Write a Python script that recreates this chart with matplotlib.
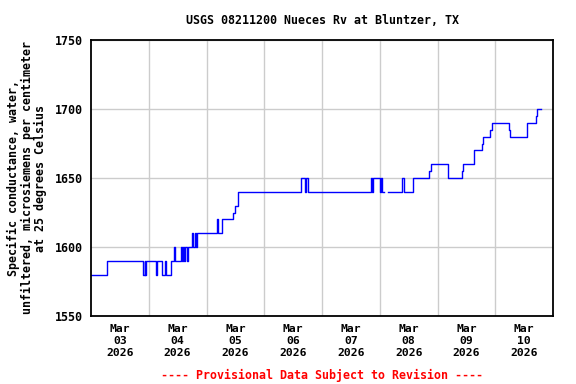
import numpy as np
import matplotlib
matplotlib.use("Agg")
import matplotlib.pyplot as plt

# hours since 2026-03-03 00:00, value starting at that time (step function)
hours = [0, 6.75, 21.75, 22.25, 22.5, 23.0, 27.0, 27.5, 29.5, 30.75, 31.0, 33.25,
         34.5, 35.0, 37.25, 37.75, 38.25, 38.75, 39.25, 39.75, 40.25, 42.0, 42.5,
         43.25, 43.75, 44.25, 52.25, 52.75, 54.5, 59.0, 59.75, 61.25, 87.25, 89.0,
         89.5, 90.0, 116.25, 116.75, 117.0, 120.25, 120.5, 121.0, 121.75, 123.5,
         129.25, 130.25, 134.0, 140.5, 141.25, 148.25, 154.25, 154.75, 159.25,
         162.5, 163.0, 166.0, 166.5, 173.75, 174.25, 181.0, 185.0, 185.5, 187.0]
values = [1580, 1590, 1580, 1590, 1580, 1590, 1580, 1590, 1580, 1590, 1580, 1590,
          1600, 1590, 1600, 1590, 1600, 1590, 1600, 1590, 1600, 1610, 1600,
          1610, 1600, 1610, 1620, 1610, 1620, 1625, 1630, 1640, 1650, 1640,
          1650, 1640, 1650, 1640, 1650, 1640, 1650, 1640, np.nan, 1640,
          1650, 1640, 1650, 1655, 1660, 1650, 1655, 1660, 1670,
          1675, 1680, 1685, 1690, 1685, 1680, 1690, 1695, 1700, 1700]

day_labels = ["Mar\n03\n2026", "Mar\n04\n2026", "Mar\n05\n2026", "Mar\n06\n2026",
              "Mar\n07\n2026", "Mar\n08\n2026", "Mar\n09\n2026", "Mar\n10\n2026"]
y_ticks = [1550, 1600, 1650, 1700, 1750]

title = "USGS 08211200 Nueces Rv at Bluntzer, TX"
ylabel = "Specific conductance, water,\nunfiltered, microsiemens per centimeter\nat 25 degrees Celsius"
footer = "---- Provisional Data Subject to Revision ----"

font = "DejaVu Sans Mono"

fig = plt.figure(figsize=(5.76, 3.84), dpi=100)
ax = fig.add_axes([91/576, 1-316/384, (553-91)/576, (316-40)/384])

ax.plot(hours, values, drawstyle="steps-post", color="#0000ff", linewidth=1.0)

ax.set_xlim(0, 24*8)
ax.set_ylim(1550, 1750)

ax.set_xticks([24*i for i in range(1, 8)])
ax.set_xticklabels([])
ax.set_xticks([24*i + 12 for i in range(8)], minor=True)
ax.set_xticklabels(day_labels, minor=True, fontfamily=font, fontweight="bold",
                   fontsize=8.2, linespacing=1.25)
ax.tick_params(axis="x", which="both", length=0, pad=6)

ax.set_yticks(y_ticks)
ax.set_yticklabels([str(v) for v in y_ticks], fontfamily=font, fontweight="bold", fontsize=8.4)
ax.tick_params(axis="y", length=0, pad=6)

ax.grid(True, which="major", color="#cccccc", linewidth=1.0)
ax.set_axisbelow(True)
for s in ax.spines.values():
    s.set_linewidth(1.3)
    s.set_color("black")

fig.text(322/576, 1-20/384, title, ha="center", va="center", fontfamily=font,
         fontweight="bold", fontsize=8.4)
fig.text(27/576, 1-178/384, ylabel, ha="center", va="center", rotation=90,
         fontfamily=font, fontweight="bold", fontsize=8.4, linespacing=1.0)
fig.text(322/576, 1-375/384, footer, ha="center", va="center", fontfamily=font,
         fontweight="bold", fontsize=8.4, color="#ff0000")

fig.savefig("out.png", dpi=100)
